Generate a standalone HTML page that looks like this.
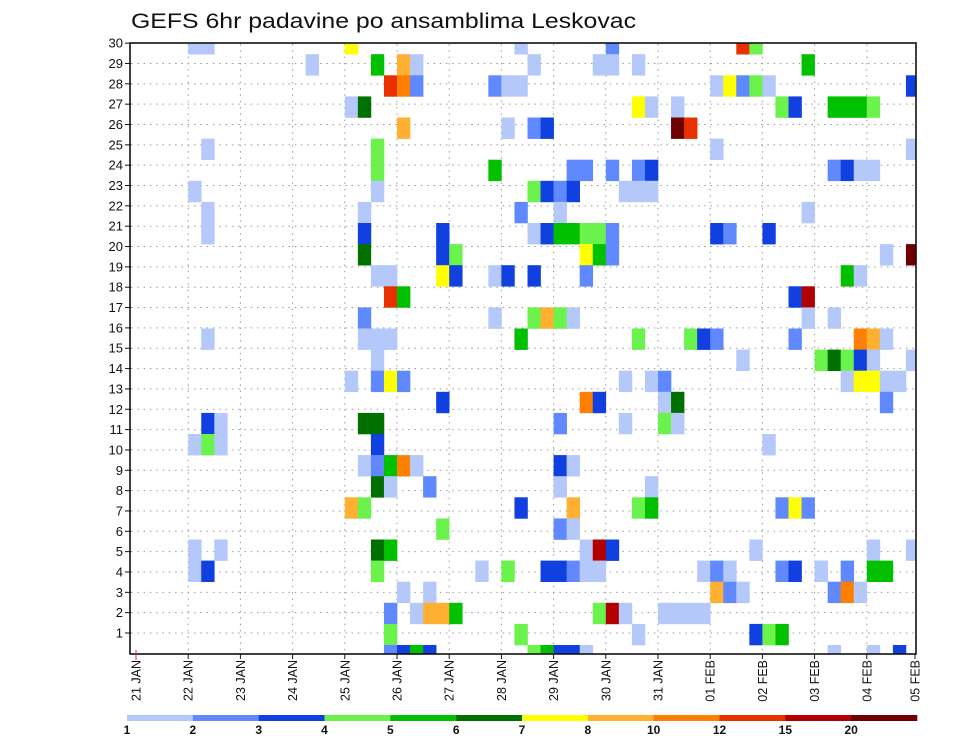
<!DOCTYPE html>
<html><head><meta charset="utf-8">
<style>
html,body{margin:0;padding:0;background:#fff;}
svg{display:block;font-family:"Liberation Sans",sans-serif;}
</style></head>
<body>
<svg id="chart" width="960" height="742" viewBox="0 0 960 742" xmlns="http://www.w3.org/2000/svg">
<defs><clipPath id="plotclip"><rect x="130" y="43" width="786" height="611"/></clipPath></defs>
<rect x="0" y="0" width="960" height="742" fill="#fff"/>
<text x="131" y="28" font-size="21" textLength="505" lengthAdjust="spacingAndGlyphs" fill="#111">GEFS 6hr padavine po ansamblima Leskovac</text>
<g id="grid"></g>
<g id="cells" clip-path="url(#plotclip)"></g>
<rect x="130" y="43" width="786" height="611" fill="none" stroke="#111" stroke-width="1.6"/>
<g id="yaxis"></g>
<g id="xaxis"></g>
<g id="legend"></g>
</svg>
<script>
// level colours and legend labels
const levelColors = ["#b4c8fa","#6088ff","#1040e0","#6cf24c","#00c000","#007000","#ffff00","#ffb030","#ff8000","#e83000","#b00000","#6e0000"];
const legendLabels = ["1","2","3","4","5","6","7","8","10","12","15","20"];
const dayLabels = ["21 JAN","22 JAN","23 JAN","24 JAN","25 JAN","26 JAN","27 JAN","28 JAN","29 JAN","30 JAN","31 JAN","01 FEB","02 FEB","03 FEB","04 FEB","05 FEB"];
const memberLabels = [1,2,3,4,5,6,7,8,9,10,11,12,13,14,15,16,17,18,19,20,21,22,23,24,25,26,27,28,29,30];
// cells: time step (6h), ensemble member row, colour level
const cellMember = [
29,29,29,29,29,29,29,
28,28,28,28,28,28,28,28,28,
27,27,27,27,27,27,27,27,27,27,27,27,
26,26,26,26,26,26,26,26,26,26,26,
25,25,25,25,25,25,
24,24,24,24,
23,23,23,23,23,23,23,23,23,23,23,
22,22,22,22,22,22,22,22,22,
21,21,21,21,21,
20,20,20,20,20,20,20,20,20,20,20,20,20,
19,19,19,19,19,19,19,19,
18,18,18,18,18,18,18,18,18,18,
17,17,17,17,
16,16,16,16,16,16,16,16,
15,15,15,15,15,15,15,15,15,15,15,15,15,
14,14,14,14,14,14,14,14,
13,13,13,13,13,13,13,13,13,13,13,13,
12,12,12,12,12,12,
11,11,11,11,11,11,11,11,
10,10,10,10,10,
9,9,9,9,9,9,9,
8,8,8,8,8,
7,7,7,7,7,7,7,7,7,
6,6,6,
5,5,5,5,5,5,5,5,5,5,
4,4,4,4,4,4,4,4,4,4,4,4,4,4,4,4,4,4,4,
3,3,3,3,3,3,3,3,
2,2,2,2,2,2,2,2,2,2,2,2,
1,1,1,1,1,1,
0,0,0,0,0,0,0,0,0,0,0,0];
const cellStep = [
4,5,16,29,36,46,47,
13,18,20,21,30,35,36,38,51,
19,20,21,27,28,29,44,45,46,47,48,59,
16,17,38,39,41,49,50,53,54,55,56,
20,28,30,31,41,42,
5,18,44,59,
18,27,33,34,36,38,39,53,54,55,56,
4,18,30,31,32,33,37,38,39,
5,17,29,32,51,
5,17,23,30,31,32,33,34,35,36,44,45,48,
17,23,24,34,35,36,57,59,
18,19,23,24,27,28,30,34,54,55,
19,20,50,51,
17,27,30,31,32,33,51,53,
5,17,18,19,29,38,42,43,44,50,55,56,57,
18,46,52,53,54,55,56,59,
16,18,19,20,37,39,40,54,55,56,57,58,
23,34,35,40,41,57,
5,6,17,18,32,37,40,41,
4,5,6,18,48,
17,18,19,20,21,32,33,
18,19,22,32,39,
16,17,29,33,38,39,49,50,51,
23,32,33,
4,6,18,19,34,35,36,47,56,59,
4,5,18,26,28,31,32,33,34,35,43,44,45,49,50,52,54,56,57,
20,22,44,45,46,53,54,55,
19,21,22,23,24,35,36,37,40,41,42,43,
19,29,38,47,48,49,
19,20,21,22,30,31,32,33,34,53,56,58];
const cellLevel = [
0,0,6,0,1,9,3,
0,4,7,0,0,0,0,0,4,
9,8,1,1,0,0,0,6,1,3,0,2,
0,5,6,0,0,3,2,4,4,4,3,
7,0,1,2,11,9,
0,3,0,0,
3,4,1,1,1,1,2,1,2,0,0,
0,0,3,2,1,2,0,0,0,
0,0,1,0,0,
0,2,2,0,2,4,4,3,3,1,2,1,2,
5,2,3,6,4,1,0,11,
0,0,6,2,0,2,2,1,4,0,
9,4,2,10,
1,0,3,7,3,0,0,0,
0,0,0,0,4,3,3,2,1,1,8,7,0,
0,0,3,5,3,2,0,0,
0,1,6,1,0,0,1,0,6,6,0,0,
2,8,2,0,5,1,
2,0,5,5,1,0,3,0,
0,3,0,2,0,
0,1,4,8,0,2,0,
5,0,1,0,0,
7,3,2,7,3,4,1,6,1,
3,1,0,
0,0,5,4,0,10,2,0,0,0,
0,2,3,0,3,2,2,1,0,0,0,1,0,1,2,0,1,4,4,
0,0,7,1,0,1,8,0,
1,0,7,7,4,3,10,0,0,0,0,0,
3,3,0,2,3,4,
1,2,4,2,3,4,2,2,0,0,0,2];

const NS = "http://www.w3.org/2000/svg";
const X0 = 136, DAY = 52.2, STEP = DAY/4;
function xDay(d){ return X0 + d*DAY; }
function xStep(s){ return X0 + s*STEP; }
function yMemberTop(m){ return 645 - 21.1*m; }
function yLabel(v){ return 633 - (v-1)*20.34; }
function mk(tag, attrs, parent){ const e=document.createElementNS(NS,tag); for(const k in attrs) e.setAttribute(k,attrs[k]); parent.appendChild(e); return e; }

const grid = document.getElementById('grid');
for (let i=0;i<memberLabels.length;i++){
  const y=yLabel(memberLabels[i]);
  const l=mk('line',{x1:131,x2:915,y1:y,y2:y,stroke:'#999','stroke-width':1,'stroke-dasharray':'1.5 4.8'},grid);
  
  
}
for (let d=1; d<dayLabels.length-1; d++){
  const x=xDay(d);
  const l=mk('line',{x1:x,x2:x,y1:44,y2:653,stroke:'#999','stroke-width':1,'stroke-dasharray':'1.5 4.8'},grid);
  
  
}

const cells = document.getElementById('cells');
for (let i=0;i<cellStep.length;i++){
  const r=mk('rect',{x:xStep(cellStep[i]),y:yMemberTop(cellMember[i]),width:STEP+0.3,height:21.4,fill:levelColors[cellLevel[i]]},cells);
  
  
}

const yaxis = document.getElementById('yaxis');
for (let i=0;i<memberLabels.length;i++){
  const y=yLabel(memberLabels[i]);
  mk('line',{x1:125,x2:131,y1:y,y2:y,stroke:'#111','stroke-width':1},yaxis);
  const t=mk('text',{x:123,y:y+4.5,'font-size':13,'text-anchor':'end',fill:'#111'},yaxis);
  t.textContent=memberLabels[i];
  
  
}

const xaxis = document.getElementById('xaxis');
for (let d=0; d<dayLabels.length; d++){
  const x=Math.min(xDay(d),915);
  mk('line',{x1:x,x2:x,y1:654,y2:659,stroke:'#111','stroke-width':1},xaxis);
  const t=mk('text',{x:0,y:0,'font-size':12.5,'text-anchor':'end',fill:'#111',transform:'translate('+(x+4.5)+',660) rotate(-90)'},xaxis);
  t.textContent=dayLabels[d];
  
  
}
mk('line',{x1:xDay(0),x2:xDay(0),y1:650,y2:660,stroke:'#c33','stroke-width':1},xaxis);

const legend = document.getElementById('legend');
const LX0=127, LW=(917-127)/levelColors.length;
for (let i=0;i<levelColors.length;i++){
  const r=mk('rect',{x:LX0+i*LW,y:715,width:LW+0.3,height:6,fill:levelColors[i]},legend);
  
  
  const t=mk('text',{x:LX0+i*LW,y:734,'font-size':12,'font-weight':'bold','text-anchor':'middle',fill:'#111'},legend);
  t.textContent=legendLabels[i];
  
  
}
</script>
</body></html>
